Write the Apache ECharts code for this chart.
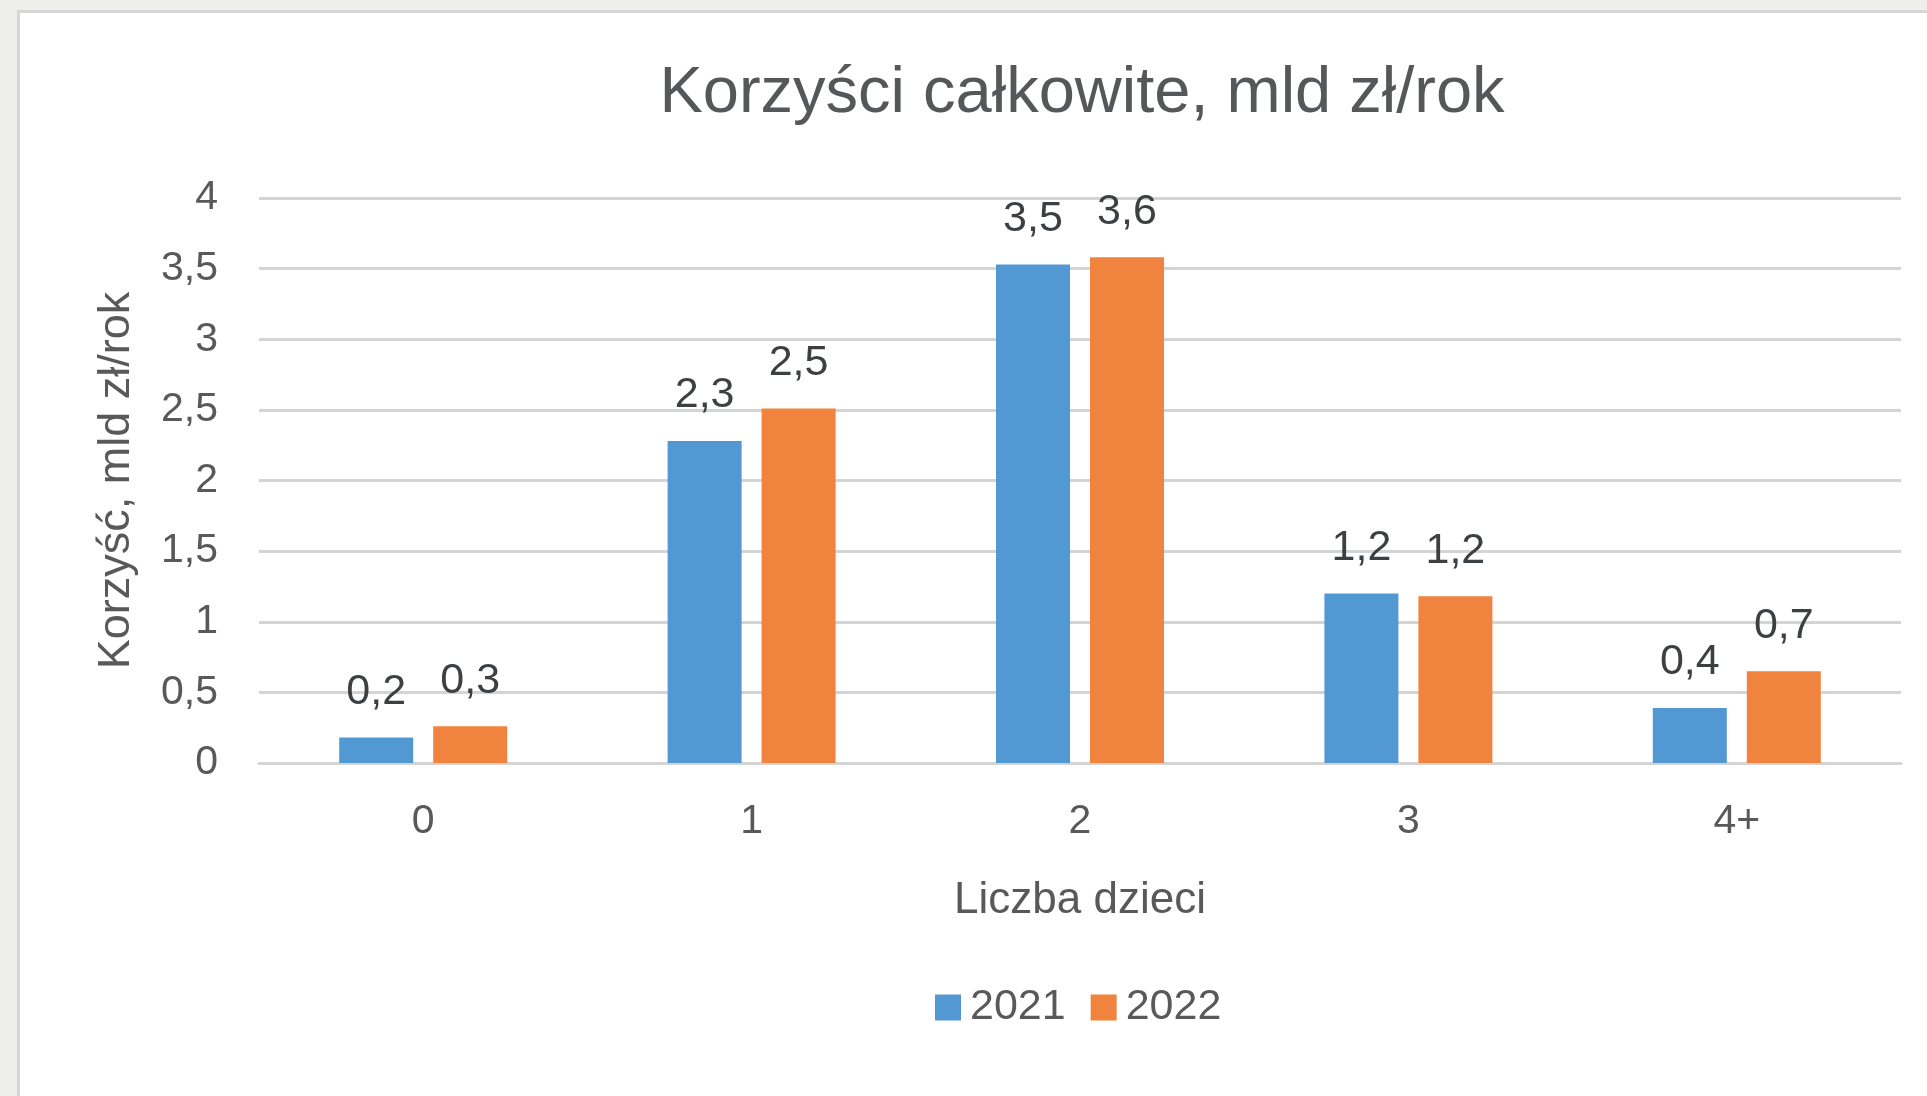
<html>
<head>
    <meta charset="utf-8">
    <title>Korzyści całkowite</title>
    <script src="https://cdn.jsdelivr.net/npm/echarts@6/dist/echarts.min.js"></script>
    <style>
        html, body { margin: 0; padding: 0; overflow: hidden; background: #eeeeec; }
        #panel { position: absolute; left: 17px; top: 10px; width: 1960px; height: 1150px;
                 background: #ffffff; border: 3px solid #d6d6d6; }
        #main { position: absolute; left: 0; top: 0; width: 1927px; height: 1096px; }
    </style>
</head>
<body>
<div id="panel"></div>
<div id="main"></div>

<script type="text/javascript">
    // dane
    var kategorie = ['0', '1', '2', '3', '4+'];
    var lata = ['2021', '2022'];
    var wartosci2021 = [0.18, 2.28, 3.53, 1.20, 0.39];
    var wartosci2022 = [0.26, 2.51, 3.58, 1.18, 0.65];
    var osY = { min: 0, max: 4, krok: 0.5 };

    var font = 'Liberation Sans, Arial, sans-serif';

    function przecinek(v) {
        return String(v).replace('.', ',');
    }

    var myChart = echarts.init(document.getElementById('main'));
    var option = {
        backgroundColor: 'transparent',
        textStyle: { fontFamily: font },
        title: {
            text: 'Korzyści całkowite, mld zł/rok',
            left: 1077,
            textAlign: 'center',
            top: 57,
            textStyle: { fontSize: 65, fontWeight: 'normal', color: '#555758', fontFamily: font }
        },
        legend: {
            data: lata,
            left: 930,
            top: 981,
            icon: 'rect',
            itemWidth: 26,
            itemHeight: 26,
            itemGap: 25,
            textStyle: { fontSize: 43, color: '#595959', fontFamily: font, padding: [0, 0, 0, 4] }
        },
        grid: {
            left: 259,
            right: 26,
            top: 198,
            bottom: 333,
            containLabel: false
        },
        xAxis: {
            type: 'category',
            data: kategorie,
            name: 'Liczba dzieci',
            nameLocation: 'middle',
            nameGap: 116,
            nameTextStyle: { fontSize: 44, color: '#595959', fontFamily: font },
            axisLine: { show: true, lineStyle: { color: '#d4d4d4', width: 3 } },
            axisTick: { show: false },
            axisLabel: { margin: 38, fontSize: 41, color: '#595959', fontFamily: font }
        },
        yAxis: {
            type: 'value',
            min: osY.min,
            max: osY.max,
            interval: osY.krok,
            name: 'Korzyść, mld zł/rok',
            nameLocation: 'middle',
            nameGap: 120,
            nameTextStyle: { fontSize: 45, color: '#595959', fontFamily: font },
            axisLine: { show: false },
            axisTick: { show: false },
            axisLabel: {
                margin: 41, fontSize: 41, color: '#595959', fontFamily: font,
                formatter: function (v) { return przecinek(v); }
            },
            splitLine: { lineStyle: { color: '#d4d4d4', width: 3 } }
        },
        series: [
            {
                name: lata[0],
                type: 'bar',
                data: wartosci2021,
                barWidth: 74,
                barGap: '27%',
                itemStyle: { color: '#5299d4' },
                label: {
                    show: true, position: 'top', distance: 24,
                    fontSize: 43, color: '#3d4043', fontFamily: font,
                    formatter: function (p) { return przecinek(p.value.toFixed(1)); }
                }
            },
            {
                name: lata[1],
                type: 'bar',
                data: wartosci2022,
                barWidth: 74,
                barGap: '27%',
                itemStyle: { color: '#f0833d' },
                label: {
                    show: true, position: 'top', distance: 24,
                    fontSize: 43, color: '#3d4043', fontFamily: font,
                    formatter: function (p) { return przecinek(p.value.toFixed(1)); }
                }
            }
        ]
    };
    myChart.setOption(option);
</script>
</body>
</html>
